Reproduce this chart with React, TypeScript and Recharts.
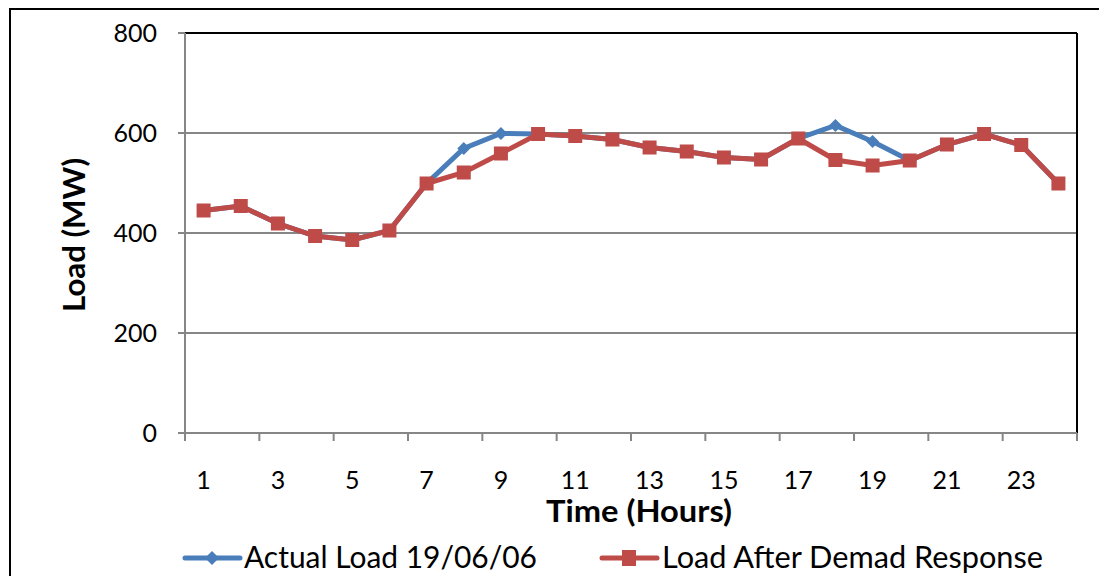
import { LineChart, Line, XAxis, YAxis, CartesianGrid, ReferenceLine, Label } from 'recharts';

const hours = [1, 2, 3, 4, 5, 6, 7, 8, 9, 10, 11, 12, 13, 14, 15, 16, 17, 18, 19, 20, 21, 22, 23, 24];
const actualLoad = [445, 454, 419, 394, 386, 405, 499, 569, 599, 598, 594, 587, 571, 563, 551, 547, 589, 615, 583, 545, 577, 598, 576, 499];
const afterResponse = [445, 454, 419, 394, 386, 405, 499, 521, 559, 598, 594, 587, 571, 563, 551, 547, 589, 546, 535, 545, 577, 598, 576, 499];

const yTicks = [0, 200, 400, 600, 800];
const xLabels = [1, 3, 5, 7, 9, 11, 13, 15, 17, 19, 21, 23];
const xBoundaries = [0.5, 2.5, 4.5, 6.5, 8.5, 10.5, 12.5, 14.5, 16.5, 18.5, 20.5, 22.5, 24.5];

const seriesNames = ['Actual Load 19/06/06', 'Load After Demad Response'];
const BLUE = '#4A7EBB';
const RED = '#BE4B48';
const AXIS = '#868686';
const FONT = 'Lato, "Open Sans", sans-serif';

const data = hours.map((h, i) => ({ hour: h, actual: actualLoad[i], after: afterResponse[i] }));
const xTicks = [...xBoundaries, ...xLabels].sort((a, b) => a - b);

// labels on odd hours, tick marks on the category boundaries
const XTick = (props: any) => {
  const { x, y, payload } = props;
  const v = payload.value;
  if (Number.isInteger(v)) {
    return (
      <text x={x} y={y + 56} textAnchor="middle" fontSize={25} fill="#000" fontFamily={FONT}>
        {v}
      </text>
    );
  }
  return <line x1={x} x2={x} y1={y} y2={y + 8} stroke={AXIS} strokeWidth={2} />;
};

const Diamond = (props: any) => {
  const { cx, cy } = props;
  if (cx == null || cy == null) return <g />;
  const s = 6.5;
  return <polygon points={`${cx},${cy - s} ${cx + s},${cy} ${cx},${cy + s} ${cx - s},${cy}`} fill={BLUE} />;
};

const Square = (props: any) => {
  const { cx, cy } = props;
  if (cx == null || cy == null) return <g />;
  return <rect x={cx - 7} y={cy - 7} width={14} height={14} fill={RED} />;
};

// legend: icon line start, text start, text width
const legendItems = [
  { name: seriesNames[0], color: BLUE, kind: 'diamond', x: 185, tx: 244, tw: 293 },
  { name: seriesNames[1], color: RED, kind: 'square', x: 602, tx: 662, tw: 381 },
];

export default function App() {
  return (
    <div style={{ position: 'absolute', left: 0, top: 0, width: 1099, height: 576, overflow: 'hidden', background: '#fff' }}>
      <div style={{ position: 'absolute', left: 9, top: 8, width: 1300, height: 800, border: '2px solid #000' }} />
      <div style={{ position: 'absolute', left: 0, top: 0 }}>
        <LineChart width={1099} height={576} data={data} margin={{ top: 33, right: 22, bottom: 0, left: 0 }}>
          <CartesianGrid vertical={false} stroke={AXIS} strokeWidth={2} />
          <XAxis
            dataKey="hour"
            type="number"
            domain={[0.5, 24.5]}
            ticks={xTicks}
            interval={0}
            tick={<XTick />}
            tickLine={false}
            tickSize={0}
            tickMargin={0}
            height={143}
            axisLine={{ stroke: AXIS, strokeWidth: 2 }}
          >
            <Label
              content={(p: any) => {
                const vb = p.viewBox;
                return (
                  <text
                    x={vb.x + vb.width / 2 + 8}
                    y={vb.y + 89}
                    textAnchor="middle"
                    fontSize={30}
                    fontWeight="bold"
                    fill="#000"
                    fontFamily={FONT}
                    textLength={186}
                    lengthAdjust="spacingAndGlyphs"
                  >
                    Time (Hours)
                  </text>
                );
              }}
            />
          </XAxis>
          <YAxis
            domain={[0, 800]}
            ticks={yTicks}
            width={185}
            tickSize={7}
            tickMargin={21}
            tick={{ fontSize: 25, fill: '#000', fontFamily: FONT }}
            axisLine={{ stroke: AXIS, strokeWidth: 2 }}
            tickLine={{ stroke: AXIS, strokeWidth: 2 }}
          >
            <Label
              content={(p: any) => {
                const vb = p.viewBox;
                const cx = vb.x + 85;
                const cy = vb.y + vb.height / 2 + 2;
                return (
                  <text
                    x={cx}
                    y={cy}
                    transform={`rotate(-90 ${cx} ${cy})`}
                    textAnchor="middle"
                    fontSize={30}
                    fontWeight="bold"
                    fill="#000"
                    fontFamily={FONT}
                    textLength={154}
                    lengthAdjust="spacingAndGlyphs"
                  >
                    Load (MW)
                  </text>
                );
              }}
            />
          </YAxis>
          <ReferenceLine y={800} stroke="#000" strokeWidth={2} />
          <ReferenceLine x={24.5} stroke="#000" strokeWidth={2} />
          <Line
            dataKey="actual"
            name={seriesNames[0]}
            stroke={BLUE}
            strokeWidth={5}
            dot={<Diamond />}
            activeDot={false}
            isAnimationActive={false}
          />
          <Line
            dataKey="after"
            name={seriesNames[1]}
            stroke={RED}
            strokeWidth={5}
            dot={<Square />}
            activeDot={false}
            isAnimationActive={false}
          />
        </LineChart>
      </div>
      <svg width={1099} height={576} style={{ position: 'absolute', left: 0, top: 0, pointerEvents: 'none' }}>
        {legendItems.map((it) => (
          <g key={it.name}>
            <line x1={it.x} x2={it.x + 55} y1={558} y2={558} stroke={it.color} strokeWidth={5} strokeLinecap="round" />
            {it.kind === 'diamond' ? (
              <polygon
                points={`${it.x + 27},${551} ${it.x + 34},${558} ${it.x + 27},${565} ${it.x + 20},${558}`}
                fill={it.color}
              />
            ) : (
              <rect x={it.x + 20} y={550} width={14} height={16} fill={it.color} />
            )}
            <text
              x={it.tx}
              y={568}
              fontSize={30}
              fill="#000"
              fontFamily={FONT}
              textLength={it.tw}
              lengthAdjust="spacingAndGlyphs"
            >
              {it.name}
            </text>
          </g>
        ))}
      </svg>
    </div>
  );
}
